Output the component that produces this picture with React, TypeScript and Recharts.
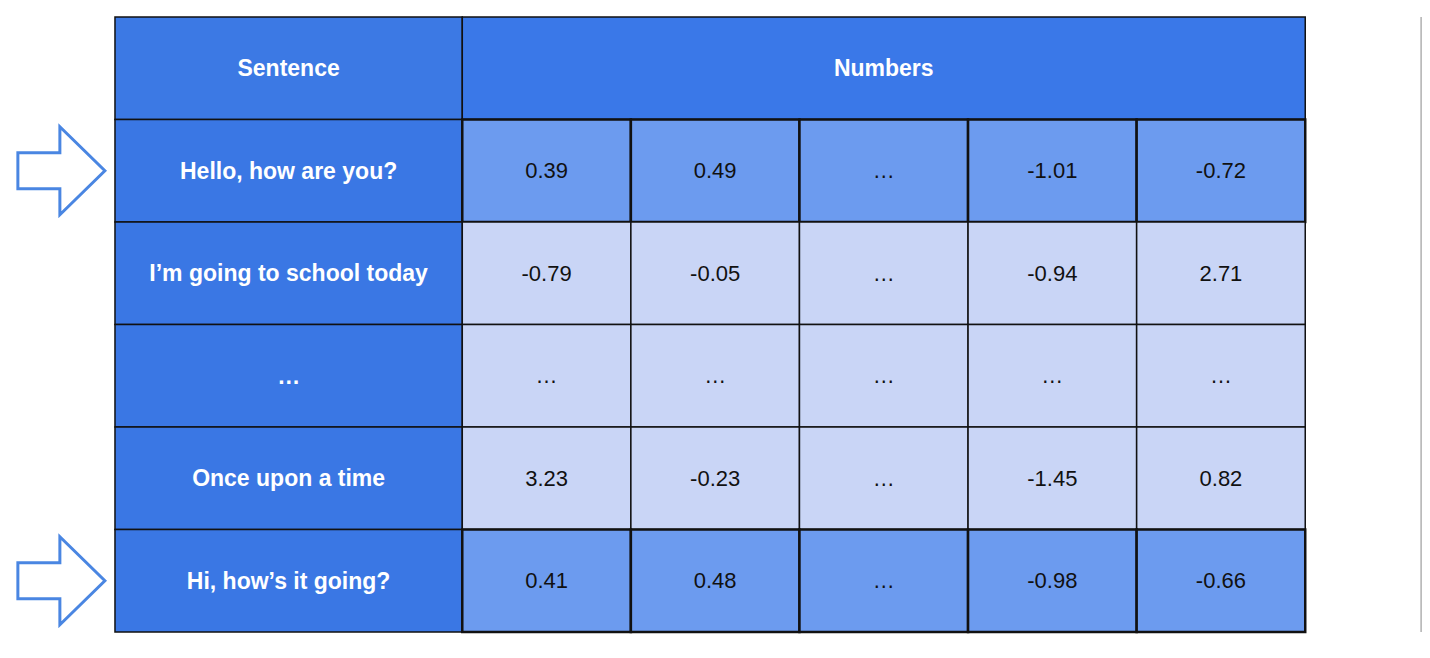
import { ScatterChart, Scatter, XAxis, YAxis, ReferenceLine } from 'recharts'

const sentences = ['Hello, how are you?', 'I’m going to school today', '…', 'Once upon a time', 'Hi, how’s it going?']
const numberRows = [
  ['0.39', '0.49', '…', '-1.01', '-0.72'],
  ['-0.79', '-0.05', '…', '-0.94', '2.71'],
  ['…', '…', '…', '…', '…'],
  ['3.23', '-0.23', '…', '-1.45', '0.82'],
  ['0.41', '0.48', '…', '-0.98', '-0.66'],
]
const highlighted = [true, false, false, false, true]
const headers = ['Sentence', 'Numbers']

const W = 1430
const H = 658
const X_DOMAIN: [number, number] = [-0.682, 7.8]
const MARGIN = { top: 17, right: 0, bottom: 26, left: 0 }
const SX = W / (X_DOMAIN[1] - X_DOMAIN[0])
const SY = (H - MARGIN.top - MARGIN.bottom) / 6
const SENT_W = 2.06

type Cell = { x: number; y: number; w: number; text: string; fill: string; color: string; bold: boolean; thick: boolean }

const cells: Cell[] = [
  { x: SENT_W / 2, y: 0.5, w: SENT_W, text: headers[0], fill: '#3c79e4', color: '#fff', bold: true, thick: false },
  { x: SENT_W + 2.5, y: 0.5, w: 5, text: headers[1], fill: '#3a78e8', color: '#fff', bold: true, thick: false },
]
sentences.forEach((s, i) => {
  cells.push({ x: SENT_W / 2, y: 1.5 + i, w: SENT_W, text: s, fill: '#3a77e4', color: '#fff', bold: true, thick: false })
  numberRows[i].forEach((n, j) => {
    cells.push({
      x: SENT_W + j + 0.5,
      y: 1.5 + i,
      w: 1,
      text: n,
      fill: highlighted[i] ? '#6c9bef' : '#c9d5f6',
      color: '#111',
      bold: false,
      thick: highlighted[i],
    })
  })
})

const arrows = highlighted.map((h, i) => ({ x: -0.315, y: 1.5 + i, show: h })).filter(a => a.show)

function CellShape(props: any) {
  const { cx, cy, payload } = props
  const w = payload.w * SX
  const h = SY
  return (
    <g>
      <rect x={cx - w / 2} y={cy - h / 2} width={w} height={h} fill={payload.fill}
        stroke="#111" strokeWidth={payload.thick ? 2.5 : 1.5} />
      <text x={cx} y={cy} textAnchor="middle" dominantBaseline="central" fill={payload.color}
        fontSize={payload.bold ? 23 : 22} fontWeight={payload.bold ? 700 : 400}
        fontFamily="'Liberation Sans', Arial, sans-serif">
        {payload.text}
      </text>
    </g>
  )
}

function ArrowShape(props: any) {
  const { cx, cy } = props
  const pts = [
    [-44, -18], [-2, -18], [-2, -44], [43, 0], [-2, 44], [-2, 18], [-44, 18],
  ].map(([dx, dy]) => `${cx + dx},${cy + dy}`).join(' ')
  return <polygon points={pts} fill="#fff" stroke="#4a86e2" strokeWidth={3} strokeLinejoin="miter" />
}

export default function App() {
  return (
    <div style={{ margin: -8, width: W, height: H, background: '#fff' }}>
      <ScatterChart width={W} height={H} margin={MARGIN}>
        <XAxis type="number" dataKey="x" domain={X_DOMAIN} hide allowDataOverflow />
        <YAxis type="number" dataKey="y" domain={[0, 6]} reversed hide width={0} />
        <Scatter data={cells} shape={<CellShape />} isAnimationActive={false} />
        <Scatter data={arrows} shape={<ArrowShape />} isAnimationActive={false} />
        <ReferenceLine segment={[{ x: SENT_W, y: 1 }, { x: SENT_W, y: 6 }]} stroke="#111" strokeWidth={4} />
        <ReferenceLine x={7.76} stroke="#bbb" strokeWidth={6} />
      </ScatterChart>
    </div>
  )
}
